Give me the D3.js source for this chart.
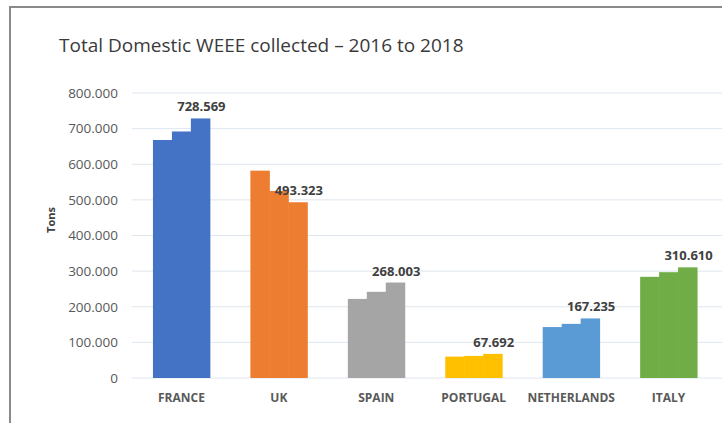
<!DOCTYPE html>
<html>
<head>
<meta charset="utf-8">
<script src="https://cdn.jsdelivr.net/npm/d3@7"></script>
<style>
  body { margin: 0; background: #fff; }
  svg { display: block; font-family: "Open Sans", sans-serif; }
</style>
</head>
<body>
<svg id="chart" width="722" height="423"></svg>
<script>
// data (tons), years 2016, 2017, 2018
const countries = ["FRANCE", "UK", "SPAIN", "PORTUGAL", "NETHERLANDS", "ITALY"];
const years = ["2016", "2017", "2018"];
const france = [668000, 692000, 728569];
const uk = [582000, 525000, 493323];
const spain = [222000, 242000, 268003];
const portugal = [60000, 62000, 67692];
const netherlands = [143000, 152000, 167235];
const italy = [284000, 297000, 310610];
const yTicks = [0, 100000, 200000, 300000, 400000, 500000, 600000, 700000, 800000];
const colors = ["#4472c4", "#ed7d31", "#a5a5a5", "#ffc000", "#5b9bd5", "#70ad47"];

const values = [france, uk, spain, portugal, netherlands, italy];

const svg = d3.select("#chart");
const fmt = d3.formatLocale({ decimal: ",", thousands: ".", grouping: [3], currency: ["", ""] }).format(",d");

// frame
svg.append("line").attr("x1", 10).attr("x2", 722).attr("y1", 7).attr("y2", 7)
  .attr("stroke", "#8a8a8a").attr("stroke-width", 2);
svg.append("line").attr("x1", 10).attr("x2", 10).attr("y1", 6).attr("y2", 423)
  .attr("stroke", "#8a8a8a").attr("stroke-width", 2);

// title
svg.append("text").attr("x", 59).attr("y", 52)
  .attr("font-size", 19).attr("fill", "#3a3a3a")
  .text("Total Domestic WEEE collected \u2013 2016 to 2018");

const x = d3.scaleBand().domain(countries).range([132, 718])
  .paddingInner(0.416).paddingOuter(0.215);
const xSub = d3.scaleBand().domain(years).range([0, x.bandwidth()]);
const y = d3.scaleLinear().domain([0, 800000]).range([378, 93]);

// grid
svg.append("g").selectAll("line").data(yTicks).join("line")
  .attr("x1", 132).attr("x2", 722)
  .attr("y1", d => y(d)).attr("y2", d => y(d))
  .attr("stroke", "#dfe6ee").attr("stroke-width", 1);

// y axis labels
const yAxis = svg.append("g").attr("transform", "translate(118,0)")
  .call(d3.axisLeft(y).tickValues(yTicks).tickFormat(fmt).tickSize(0).tickPadding(0));
yAxis.select(".domain").remove();
yAxis.selectAll("text").attr("font-size", 13.5).attr("fill", "#595959")
  .attr("font-family", "Open Sans, sans-serif");

svg.append("text").attr("transform", "translate(55,220) rotate(-90)")
  .attr("text-anchor", "middle").attr("font-size", 11).attr("font-weight", "bold")
  .attr("fill", "#404040").text("Tons");

// bars
countries.forEach((c, i) =>
{
  const g = svg.append("g").attr("transform", "translate(" + x(c) + ",0)");
  g.selectAll("rect").data(values[i]).join("rect")
    .attr("x", (d, j) => xSub(years[j]))
    .attr("width", xSub.bandwidth() + 0.5)
    .attr("y", d => y(d))
    .attr("height", d => y(0) - y(d))
    .attr("fill", colors[i]);
  const last = values[i][2];
  g.append("text")
    .attr("x", xSub("2018") + xSub.bandwidth() / 2 + 1)
    .attr("y", y(last) - 7)
    .attr("text-anchor", "middle").attr("font-size", 13).attr("font-weight", "bold")
    .attr("fill", "#404040").text(fmt(last));
});

// x labels
const xAxis = svg.append("g").attr("transform", "translate(0,378)")
  .call(d3.axisBottom(x).tickSize(0).tickPadding(15));
xAxis.select(".domain").remove();
xAxis.selectAll("text").attr("font-size", 12).attr("font-weight", "bold")
  .attr("fill", "#595959").attr("font-family", "Open Sans, sans-serif");
</script>
</body>
</html>
